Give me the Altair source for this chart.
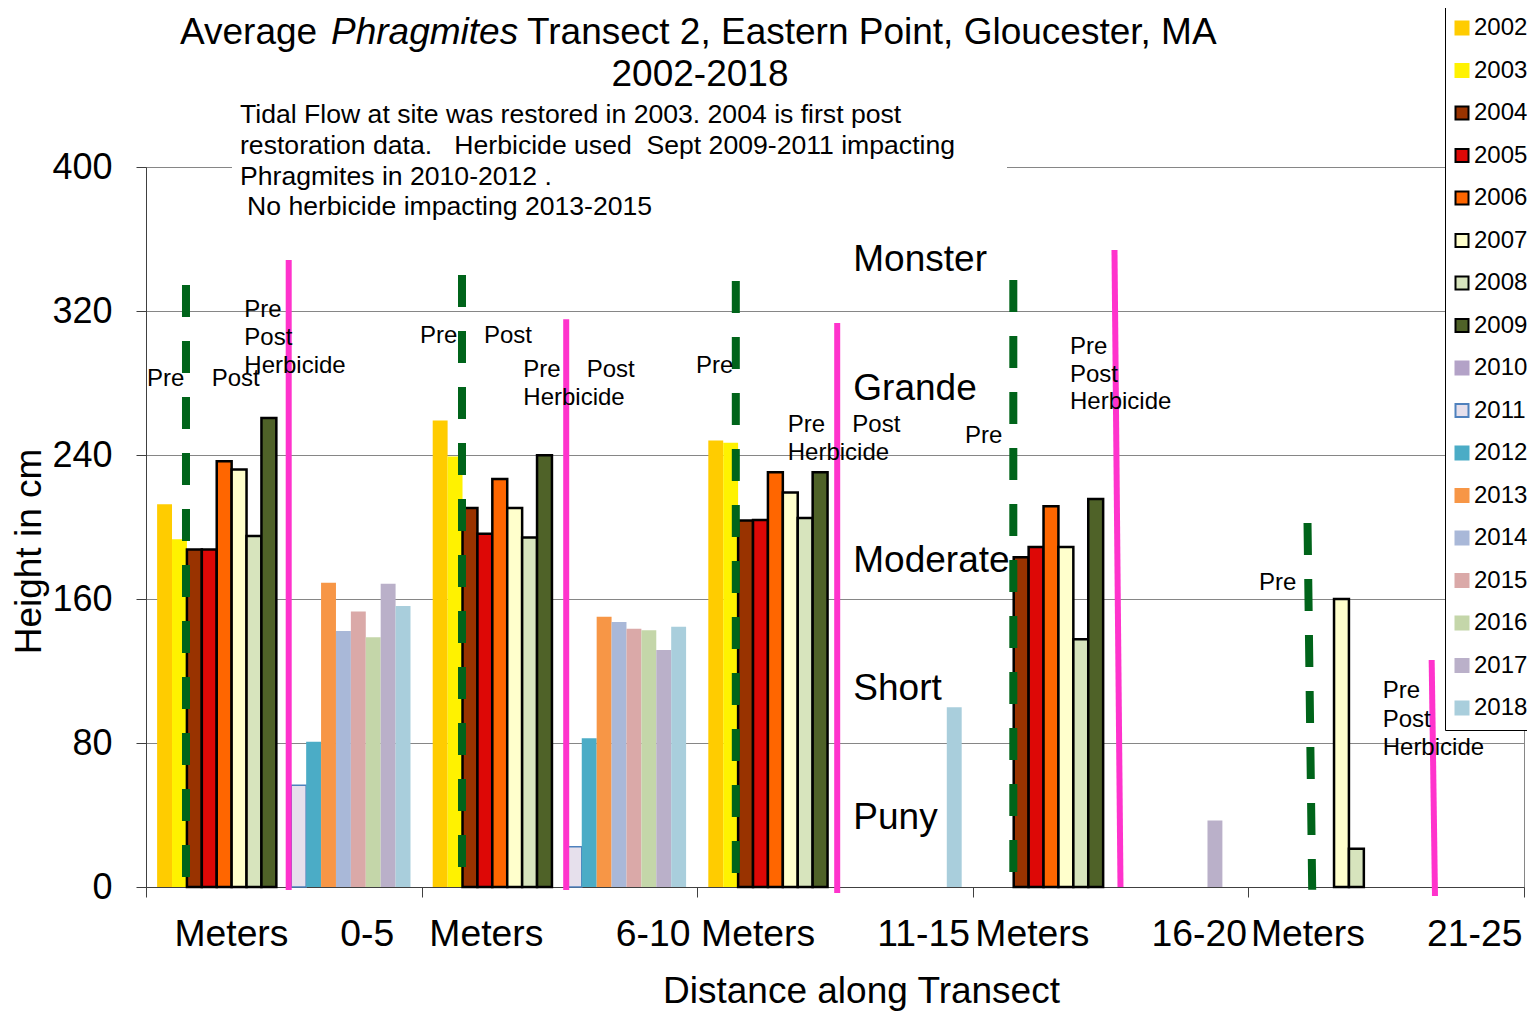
import altair as alt
import pandas as pd

FONT = "Liberation Sans, Arial, Helvetica, sans-serif"
NB = "\u00a0"

# ---------------- data ----------------
years = [str(y) for y in range(2002, 2019)]
groups = ["0-5", "6-10", "11-15", "16-20", "21-25"]
axis_labels = [
    "Meters" + NB * 5 + "0-5",
    "Meters" + NB * 7 + "6-10",
    "Meters" + NB * 6 + "11-15",
    "Meters" + NB * 6 + "16-20",
    "Meters" + NB * 6 + "21-25",
]

# average height (cm) per year, one list per distance group (None = no bar)
h_0_5 = [212.6, 193.2, 187.5, 187.5, 236.5, 232.0, 195.0, 260.5, None,
         56.5, 80.7, 169.0, 142.2, 153.1, 138.7, 168.5, 156.1]
h_6_10 = [259.1, 239.1, 210.6, 196.3, 226.7, 210.6, 194.1, 239.9, None,
          22.4, 82.6, 150.2, 147.2, 143.5, 142.6, 131.7, 144.6]
h_11_15 = [248.0, 246.8, 203.6, 203.9, 230.4, 219.1, 205.0, 230.4, None,
           None, None, None, None, None, None, None, 99.8]
h_16_20 = [None, None, 183.2, 188.9, 211.5, 188.9, 137.6, 215.6, None,
           None, None, None, None, None, None, 36.9, None]
h_21_25 = [None, None, None, None, None, 160.0, 21.3, None, None,
           None, None, None, None, None, None, None, None]

fills = ["#FFCC00", "#FFF200", "#993300", "#DD0806", "#FF6600", "#FFFFCC",
         "#D7E4BD", "#4F6228", "#B3A2C7", "#E6E0EC", "#4BACC6", "#F79646",
         "#A9B8D8", "#DAA9A8", "#C4D6A9", "#BAB0C9", "#A9CEDC"]
strokes = ["#FFCC00", "#FFF200", "#000000", "#000000", "#000000", "#000000",
           "#000000", "#000000", "#B3A2C7", "#4F81BD", "#4BACC6", "#F79646",
           "#A9B8D8", "#DAA9A8", "#C4D6A9", "#BAB0C9", "#A9CEDC"]
stroke_w = [0, 0, 2.5, 2.5, 2.5, 2.5, 2.5, 2.5, 0, 1.5, 0, 0, 0, 0, 0, 0, 0]

rows = []
for gi, vals in enumerate([h_0_5, h_6_10, h_11_15, h_16_20, h_21_25]):
    for yi, v in enumerate(vals):
        if v is not None:
            rows.append({"g": gi, "yi": yi, "year": years[yi], "h": v, "sw": stroke_w[yi]})
bars_df = pd.DataFrame(rows)

# annotation labels (x in group units, y in cm)
pp_text = ["Pre", "Post", "Pre", "Post", "Herbicide",
           "Pre", "Post", "Pre", "Post", "Herbicide",
           "Pre", "Pre", "Post", "Herbicide",
           "Pre", "Pre", "Post", "Herbicide",
           "Pre", "Pre", "Post", "Herbicide"]
pp_x = [0.0036, 0.2384, 0.3567, 0.3567, 0.3567,
        0.9942, 1.2264, 1.3690, 1.5990, 1.3690,
        1.9956, 2.3284, 2.5628, 2.3284,
        2.9717, 3.3527, 3.3527, 3.3527,
        4.0384, 4.4873, 4.4873, 4.4873]
pp_y = [278.3, 278.3, 316.8, 301.1, 285.7,
        302.1, 302.1, 283.2, 283.2, 267.8,
        285.6, 252.9, 252.9, 237.2,
        246.7, 296.1, 280.6, 265.6,
        165.0, 104.8, 89.1, 73.3]

size_text = ["Monster", "Grande", "Moderate", "Short", "Puny"]
size_x = [2.5664] * 5
size_y = [342.1, 270.4, 175.2, 103.9, 32.1]

# tidal restoration (green dashed) and herbicide (pink) marker lines
green_x = [0.1451, 1.1466, 2.1401, 3.1470, 4.2145]
green_x2 = [0.1451, 1.1466, 2.1401, 3.1470, 4.2315]
green_top = [334.4, 340.0, 336.7, 337.2, 202.2]
green_bot = [-1.5, -1.5, -1.5, -1.5, -1.5]

pink_x = [0.5178, 1.5247, 2.5080, 3.5141, 4.6650]
pink_x2 = [0.5178, 1.5247, 2.5080, 3.5359, 4.6770]
pink_top = [348.3, 315.4, 313.3, 353.9, 126.1]
pink_bot = [-1.7, -1.7, -3.3, 0.0, -5.0]

note_lines = [
    "Tidal Flow at site was restored in 2003. 2004 is first post",
    "restoration data." + NB * 2 + " Herbicide used" + NB + " Sept 2009-2011 impacting",
    "Phragmites in 2010-2012 .",
    "No herbicide impacting 2013-2015",
]
note_x = [0.3411, 0.3411, 0.3411, 0.3665]
note_y = [424.4, 407.2, 390.0, 373.3]

title_parts = ["Average", "Phragmites", "Transect 2, Eastern Point, Gloucester, MA"]
title_x = [0.1234, 0.6713, 1.3825]
title_y = [468.3, 468.3, 468.3]
subtitle = ["2002-2018"]
subtitle_x = [2.0102]
subtitle_y = [445.0]

# ---------------- chart ----------------
GAP = 0.0403
BW = (1 - 2 * GAP) / 17

xs = alt.Scale(domain=[0, 5], nice=False, zero=False)
ys = alt.Scale(domain=[0, 400], nice=False, zero=False)

legend = alt.Legend(
    title=None, orient="none", legendX=1299, legendY=-161,
    symbolType="square", symbolSize=169, symbolStrokeWidth=2,
    symbolOffset=-5,
    labelFontSize=24, labelFont=FONT, labelColor="black", labelOffset=0,
    labelLimit=200,
    padding=10, rowPadding=18.5, strokeColor="black", fillColor="white",
    symbolOpacity=1,
)

bars = alt.Chart(bars_df).transform_calculate(
    x0=f"datum.g + {GAP} + datum.yi * {BW}",
    x1=f"datum.g + {GAP} + (datum.yi + 1) * {BW}",
).mark_bar(opacity=1).encode(
    x=alt.X("x0:Q", scale=xs, axis=alt.Axis(
        values=[0, 1, 2, 3, 4, 5], labels=False, ticks=True, tickSize=10,
        tickColor="#404040", domain=True, domainColor="#404040", grid=False,
        title=None, orient="bottom")),
    x2="x1:Q",
    y=alt.Y("h:Q", scale=ys, axis=alt.Axis(
        values=[0, 80, 160, 240, 320, 400], orient="left", grid=True,
        gridColor="#868686", gridWidth=1.2, domainColor="#404040",
        tickColor="#404040", tickSize=10, labelFontSize=36, labelPadding=24,
        labelColor="black", labelFont=FONT,
        title="Height in cm", titleFontSize=37, titleFontWeight="normal",
        titleFont=FONT, titleColor="black", titleAngle=270, titleX=-106,
        titleY=384, titleAlign="center", titleBaseline="alphabetic")),
    y2=alt.datum(0),
    fill=alt.Fill("year:N", scale=alt.Scale(domain=years, range=fills), legend=legend),
    stroke=alt.Stroke("year:N", scale=alt.Scale(domain=years, range=strokes), legend=legend),
    strokeWidth=alt.StrokeWidth("sw:Q", scale=None, legend=None),
)

box_df = pd.DataFrame({"x": [0.3120], "x2": [3.1241], "y": [396.0], "y2": [404.0]})
box = alt.Chart(box_df).mark_rect(color="white").encode(
    x=alt.X("x:Q", scale=xs, axis=alt.Axis(
        values=[0.5, 1.5, 2.5, 3.5, 4.5],
        labelExpr="[" + ",".join("'" + s + "'" for s in axis_labels) + "][round(datum.value - 0.5)]",
        ticks=False, tickSize=0, domain=False, grid=False, labelFontSize=37.3,
        labelFont=FONT, labelColor="black", labelPadding=58, labelLimit=500,
        labelBaseline="alphabetic", labelAlign="center", labelOverlap=False,
        labelFlush=False, labelBound=False, orient="bottom",
        title="Distance along Transect", titleFontSize=37, titleFont=FONT,
        titleFontWeight="normal", titleColor="black", titleX=715, titleY=115,
        titleAlign="center", titleBaseline="alphabetic")),
    x2="x2:Q",
    y=alt.Y("y:Q", scale=ys, axis=None),
    y2="y2:Q",
)

def text_layer(texts, xv, yv, size, style="normal", align="left"):
    df = pd.DataFrame({"t": texts, "x": xv, "y": yv})
    return alt.Chart(df).mark_text(
        align=align, baseline="alphabetic", fontSize=size, font=FONT,
        fontStyle=style, color="black",
    ).encode(
        x=alt.X("x:Q", scale=xs, axis=None),
        y=alt.Y("y:Q", scale=ys, axis=None),
        text="t:N",
    )

pp_layer = text_layer(pp_text, pp_x, pp_y, 24)
size_layer = text_layer(size_text, size_x, size_y, 37)
note_layer = text_layer(note_lines, note_x, note_y, 26.6)
t1 = text_layer([title_parts[0]], [title_x[0]], [title_y[0]], 37)
t2 = text_layer([title_parts[1]], [title_x[1]], [title_y[1]], 37, style="italic")
t3 = text_layer([title_parts[2]], [title_x[2]], [title_y[2]], 37)
t4 = text_layer(subtitle, subtitle_x, subtitle_y, 37, align="center")

def rule_layer(xv, x2v, top, bot, color, width, dash=None):
    df = pd.DataFrame({"x": xv, "x2": x2v, "yt": top, "yb": bot})
    kw = dict(color=color, strokeWidth=width, strokeCap="butt")
    if dash:
        kw["strokeDash"] = dash
    return alt.Chart(df).mark_rule(**kw).encode(
        x=alt.X("x:Q", scale=xs, axis=None),
        x2="x2:Q",
        y=alt.Y("yt:Q", scale=ys, axis=None),
        y2="yb:Q",
    )

green = rule_layer(green_x, green_x2, green_top, green_bot, "#00641A", 8, [32, 24])
pink = rule_layer(pink_x, pink_x2, pink_top, pink_bot, "#FF33CC", 6)

chart = alt.layer(
    box, bars, green, pink, pp_layer, size_layer, note_layer, t1, t2, t3, t4
).resolve_axis(x="independent", y="independent").properties(
    width=1378, height=720,
    padding={"left": 138, "top": 159, "right": 3, "bottom": 126},
    autosize=alt.AutoSizeParams(type="none"),
).configure(font=FONT).configure_view(stroke="#868686", strokeWidth=1)

chart.save("out.html", embed_options={"renderer": "svg", "actions": False})
